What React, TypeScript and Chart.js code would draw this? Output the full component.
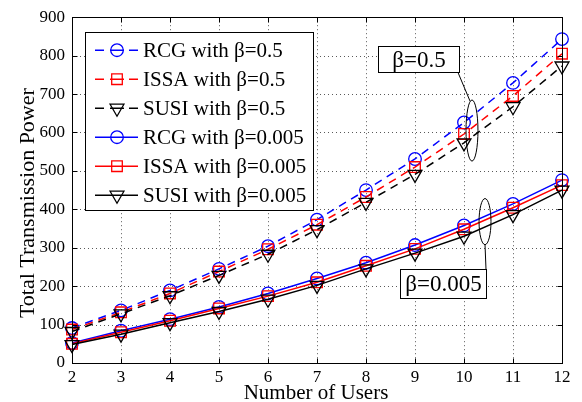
import React, { useEffect, useRef } from 'react';
import { Chart, registerables } from 'chart.js';

Chart.register(...registerables);

const users = [2, 3, 4, 5, 6, 7, 8, 9, 10, 11, 12];
const rcgHigh = [91, 137, 189, 245, 304, 373, 450, 531, 626, 729, 843];
const issaHigh = [87, 132, 181, 238, 296, 360, 432, 510, 596, 695, 805];
const susiHigh = [82, 128, 175, 228, 283, 347, 418, 491, 573, 667, 773];
const rcgLow = [52, 84, 114, 146, 181, 220, 261, 307, 358, 414, 476];
const issaLow = [50, 80, 110, 142, 174, 210, 253, 297, 348, 404, 463];
const susiLow = [48, 75, 105, 134, 166, 202, 245, 286, 330, 386, 450];

const legendLabels = [
  'RCG with β=0.5',
  'ISSA with β=0.5',
  'SUSI with β=0.5',
  'RCG with β=0.005',
  'ISSA with β=0.005',
  'SUSI with β=0.005',
];
const xTitle = 'Number of Users';
const yTitle = 'Total Transmission Power';
const xMin = 2;
const xMax = 12;
const yMin = 0;
const yMax = 900;
const yStep = 100;

// annotation labels and their anchor points in data coordinates
const annHighLabel = 'β=0.5';
const annHighBox = [8.245, 9.898, 825.6, 756.4]; // x0,x1,yTop,yBottom
const annHighLeader = [9.878, 756, 10.122, 682];
const annHighEllipse = [10.163, 605, 0.122, 79.5];
const annLowLabel = 'β=0.005';
const annLowBox = [8.694, 10.449, 243.6, 169.2];
const annLowLeader = [10.449, 243.6, 10.429, 307.7];
const annLowEllipse = [10.429, 368, 0.122, 60];

const FONT = '"Liberation Serif", "Times New Roman", serif';
const BLUE = '#0000ff';
const RED = '#ff0000';
const BLACK = '#000000';

type Marker = 'circle' | 'rect' | 'triangle';

const seriesDefs: { label: string; values: number[]; color: string; dashed: boolean; marker: Marker; order: number }[] = [
  { label: legendLabels[0], values: rcgHigh, color: BLUE, dashed: true, marker: 'circle', order: 2 },
  { label: legendLabels[1], values: issaHigh, color: RED, dashed: true, marker: 'rect', order: 1 },
  { label: legendLabels[2], values: susiHigh, color: BLACK, dashed: true, marker: 'triangle', order: 0 },
  { label: legendLabels[3], values: rcgLow, color: BLUE, dashed: false, marker: 'circle', order: 2 },
  { label: legendLabels[4], values: issaLow, color: RED, dashed: false, marker: 'rect', order: 1 },
  { label: legendLabels[5], values: susiLow, color: BLACK, dashed: false, marker: 'triangle', order: 0 },
];

function markerRadius(m: Marker) {
  return m === 'circle' ? 6.3 : m === 'rect' ? 7.5 : 8;
}

function drawMarker(ctx: CanvasRenderingContext2D, m: Marker, x: number, y: number, color: string) {
  const r = markerRadius(m);
  ctx.save();
  ctx.setLineDash([]);
  ctx.strokeStyle = color;
  ctx.lineWidth = 1.3;
  ctx.beginPath();
  if (m === 'circle') {
    ctx.arc(x, y, r, 0, Math.PI * 2);
  } else if (m === 'rect') {
    const s = r * Math.SQRT1_2;
    ctx.rect(x - s, y - s, 2 * s, 2 * s);
  } else {
    ctx.moveTo(x, y + r);
    ctx.lineTo(x - 0.866 * r, y - 0.5 * r);
    ctx.lineTo(x + 0.866 * r, y - 0.5 * r);
    ctx.closePath();
  }
  ctx.stroke();
  ctx.restore();
}

const decorPlugin = {
  id: 'decor',
  beforeDatasetsDraw(chart: any) {
    const { ctx, chartArea } = chart;
    const xs = chart.scales.x;
    const ys = chart.scales.y;
    ctx.save();
    ctx.strokeStyle = 'rgba(0,0,0,0.65)';
    ctx.lineWidth = 1;
    ctx.setLineDash([1, 3]);
    for (let v = xMin + 1; v < xMax; v++) {
      const px = Math.round(xs.getPixelForValue(v)) + 0.5;
      ctx.beginPath();
      ctx.moveTo(px, chartArea.top);
      ctx.lineTo(px, chartArea.bottom);
      ctx.stroke();
    }
    for (let v = yMin + yStep; v < yMax; v += yStep) {
      const py = Math.round(ys.getPixelForValue(v)) + 0.5;
      ctx.beginPath();
      ctx.moveTo(chartArea.left, py);
      ctx.lineTo(chartArea.right, py);
      ctx.stroke();
    }
    ctx.restore();
  },
  afterDatasetsDraw(chart: any) {
    const { ctx, chartArea } = chart;
    const xs = chart.scales.x;
    const ys = chart.scales.y;
    const L = Math.round(chartArea.left) + 0.5;
    const R = Math.round(chartArea.right) + 0.5;
    const T = Math.round(chartArea.top) + 0.5;
    const B = Math.round(chartArea.bottom) + 0.5;
    ctx.save();
    ctx.setLineDash([]);
    ctx.strokeStyle = '#000';
    ctx.lineWidth = 1;
    ctx.strokeRect(L, T, R - L, B - T);
    const tl = 5;
    for (let v = xMin; v <= xMax; v++) {
      const px = Math.round(xs.getPixelForValue(v)) + 0.5;
      ctx.beginPath();
      ctx.moveTo(px, B);
      ctx.lineTo(px, B - tl);
      ctx.moveTo(px, T);
      ctx.lineTo(px, T + tl);
      ctx.stroke();
    }
    for (let v = yMin; v <= yMax; v += yStep) {
      const py = Math.round(ys.getPixelForValue(v)) + 0.5;
      ctx.beginPath();
      ctx.moveTo(L, py);
      ctx.lineTo(L + tl, py);
      ctx.moveTo(R, py);
      ctx.lineTo(R - tl, py);
      ctx.stroke();
    }
    ctx.restore();
  },
  afterDraw(chart: any) {
    const { ctx, chartArea } = chart;
    const xs = chart.scales.x;
    const ys = chart.scales.y;
    const X = (v: number) => xs.getPixelForValue(v);
    const Y = (v: number) => ys.getPixelForValue(v);
    ctx.save();

    // axis titles
    ctx.fillStyle = '#000';
    ctx.font = `21px ${FONT}`;
    ctx.textAlign = 'center';
    ctx.textBaseline = 'alphabetic';
    ctx.fillText(xTitle, (chartArea.left + chartArea.right) / 2 - 1, chartArea.bottom + 36);
    ctx.save();
    ctx.translate(chartArea.left - 38, (chartArea.top + chartArea.bottom) / 2 + 13);
    ctx.rotate(-Math.PI / 2);
    ctx.font = `22px ${FONT}`;
    ctx.fillText(yTitle, 0, 0);
    ctx.restore();

    // legend
    const lx = chartArea.left + 13;
    const ly = chartArea.top + 15;
    const lw = 228;
    const rowH = 29;
    const lh = 178;
    ctx.fillStyle = '#fff';
    ctx.fillRect(lx, ly, lw, lh);
    ctx.strokeStyle = '#000';
    ctx.lineWidth = 1;
    ctx.setLineDash([]);
    ctx.strokeRect(Math.round(lx) + 0.5, Math.round(ly) + 0.5, lw, lh);
    ctx.font = `21px ${FONT}`;
    ctx.textAlign = 'left';
    ctx.textBaseline = 'middle';
    seriesDefs.forEach((s, i) => {
      const cy = ly + 18 + i * rowH;
      const x0 = lx + 10;
      const xm = lx + 32;
      const x1 = lx + 53;
      ctx.strokeStyle = s.color;
      ctx.lineWidth = 1.5;
      ctx.beginPath();
      if (s.dashed) {
        ctx.moveTo(x0, cy);
        ctx.lineTo(x0 + 9, cy);
        ctx.moveTo(xm - 7, cy);
        ctx.lineTo(xm + 7, cy);
        ctx.moveTo(x1 - 9, cy);
        ctx.lineTo(x1, cy);
      } else {
        ctx.moveTo(x0, cy);
        ctx.lineTo(x1, cy);
      }
      ctx.stroke();
      drawMarker(ctx, s.marker, xm, cy, s.color);
      ctx.fillStyle = '#000';
      ctx.fillText(s.label, lx + 58, cy + 1);
    });

    // annotations
    const drawBoxLabel = (box: number[], text: string) => {
      const x0 = Math.round(X(box[0])) + 0.5;
      const x1 = Math.round(X(box[1])) + 0.5;
      const y0 = Math.round(Y(box[2])) + 0.5;
      const y1 = Math.round(Y(box[3])) + 0.5;
      ctx.fillStyle = '#fff';
      ctx.fillRect(x0, y0, x1 - x0, y1 - y0);
      ctx.strokeStyle = '#000';
      ctx.lineWidth = 1;
      ctx.strokeRect(x0, y0, x1 - x0, y1 - y0);
      ctx.fillStyle = '#000';
      ctx.font = `23px ${FONT}`;
      ctx.textAlign = 'center';
      ctx.textBaseline = 'middle';
      ctx.fillText(text, (x0 + x1) / 2, (y0 + y1) / 2 + 1);
    };
    const drawLeader = (l: number[]) => {
      ctx.strokeStyle = '#000';
      ctx.lineWidth = 1;
      ctx.beginPath();
      ctx.moveTo(X(l[0]), Y(l[1]));
      ctx.lineTo(X(l[2]), Y(l[3]));
      ctx.stroke();
    };
    const drawEllipse = (e: number[]) => {
      const cx = X(e[0]);
      const cy = Y(e[1]);
      const rx = Math.abs(X(e[0] + e[2]) - cx);
      const ry = Math.abs(Y(e[1] + e[3]) - cy);
      ctx.strokeStyle = '#000';
      ctx.lineWidth = 1;
      ctx.beginPath();
      ctx.ellipse(cx, cy, rx, ry, 0, 0, Math.PI * 2);
      ctx.stroke();
    };
    drawEllipse(annHighEllipse);
    drawLeader(annHighLeader);
    drawBoxLabel(annHighBox, annHighLabel);
    drawEllipse(annLowEllipse);
    drawLeader(annLowLeader);
    drawBoxLabel(annLowBox, annLowLabel);

    ctx.restore();
  },
};

export default function App() {
  const ref = useRef<HTMLCanvasElement | null>(null);
  useEffect(() => {
    if (!ref.current) return;
    const datasets = seriesDefs.map((s) => ({
      label: s.label,
      data: users.map((u, i) => ({ x: u, y: s.values[i] })),
      borderColor: s.color,
      backgroundColor: 'transparent',
      borderWidth: 1.5,
      borderDash: s.dashed ? [8, 6] : [],
      pointStyle: s.marker,
      pointRadius: markerRadius(s.marker),
      pointBorderColor: s.color,
      pointBackgroundColor: 'transparent',
      pointBorderWidth: 1.3,
      pointRotation: s.marker === 'triangle' ? 180 : 0,
      tension: 0,
      order: s.order,
      clip: false,
    }));
    const chart = new Chart(ref.current, {
      type: 'line',
      data: { datasets },
      plugins: [decorPlugin],
      options: {
        animation: false,
        responsive: true,
        maintainAspectRatio: false,
        layout: { padding: { left: 0, right: 20, top: 12, bottom: 0 } },
        plugins: { legend: { display: false }, tooltip: { enabled: false } },
        scales: {
          x: {
            type: 'linear',
            min: xMin,
            max: xMax,
            afterFit: (s: any) => { s.height = 39; },
            grid: { display: false, drawTicks: false },
            border: { display: false },
            ticks: {
              stepSize: 1,
              color: '#000',
              padding: 4,
              maxRotation: 0,
              font: { family: FONT, size: 17 },
            },
          },
          y: {
            type: 'linear',
            min: yMin,
            max: yMax,
            afterFit: (s: any) => { s.width = 72; },
            grid: { display: false, drawTicks: false },
            border: { display: false },
            ticks: {
              stepSize: yStep,
              color: '#000',
              padding: 7,
              font: { family: FONT, size: 17 },
            },
          },
        },
      },
    } as any);
    return () => chart.destroy();
  }, []);
  return (
    <div style={{ position: 'absolute', left: 0, top: 0, width: 582, height: 402, background: '#fff' }}>
      <canvas ref={ref} />
    </div>
  );
}
